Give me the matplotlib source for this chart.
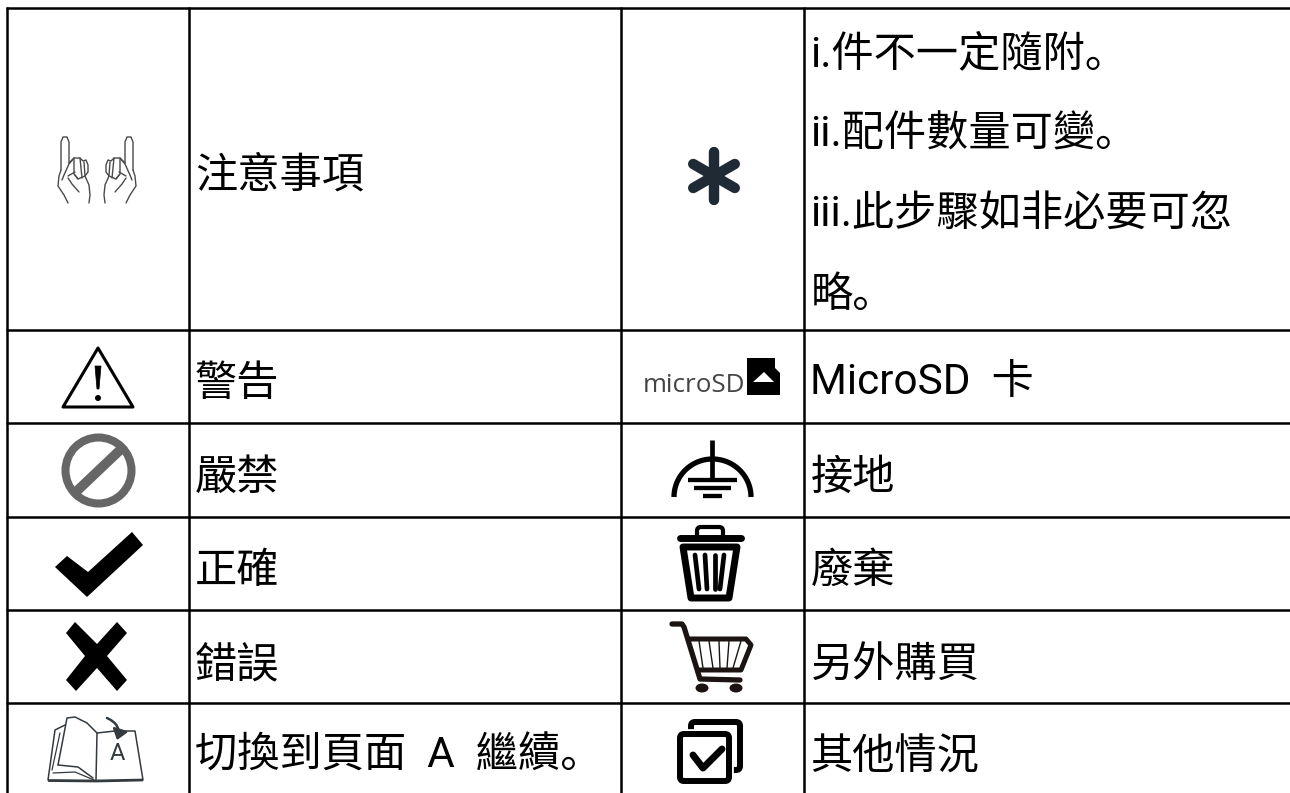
import matplotlib
matplotlib.use("Agg")
import matplotlib.pyplot as plt
import numpy as np
from matplotlib.patches import Circle, Polygon, FancyBboxPatch, Ellipse, FancyArrowPatch

plt.rcParams['font.family'] = ['Roboto', 'Noto Sans CJK SC', 'DejaVu Sans']

# table contents
left_labels = ["注意事項", "警告", "嚴禁", "正確", "錯誤", "切換到頁面  A  繼續。"]
right_labels = ["", "MicroSD  卡", "接地", "廢棄", "另外購買", "其他情況"]
note_lines = ["i.件不一定隨附。", "ii.配件數量可變。", "iii.此步驟如非必要可忽", "略。"]

col_edges = [7, 189, 621, 803.5]
row_edges = [8, 330, 423, 517, 610, 703, 793]
# text baselines
left_y = [188, 396, 490, 583, 677, 768]
right_y = [0, 394, 490, 583, 677, 770]
note_y = [66, 146, 226, 307]

fig = plt.figure(figsize=(12.9, 7.93), dpi=100)
ax = fig.add_axes([0, 0, 1, 1])
ax.set_xlim(0, 1290)
ax.set_ylim(793, 0)
ax.axis("off")


def line(xs, ys, lw=2, c="black", cap="butt", join="round"):
    ax.plot(xs, ys, color=c, lw=lw, solid_capstyle=cap, solid_joinstyle=join)


def curve(pts, lw=1.0, c="#4a4a4a"):
    ax.plot([p[0] for p in pts], [p[1] for p in pts], color=c, lw=lw,
            solid_capstyle="round", solid_joinstyle="round")


def hands():
    # left hand, right hand is its mirror around x=97
    strokes = [
        [(61, 170), (61, 142), (63, 137), (67, 137), (69, 142), (69, 163)],
        [(61, 170), (59, 176), (58, 186), (64, 195), (68, 203)],
        [(74, 158), (69, 164), (64, 175), (62, 180)],
        [(69, 163), (74, 158), (80, 158), (83, 161), (86, 160), (88, 165), (88, 172), (85, 176), (78, 179), (75, 175)],
        [(74, 159), (74, 174), (78, 179)],
        [(80, 158), (82, 178)],
        [(84, 162), (85, 176), (89, 185), (90, 195), (89, 203)],
        [(68, 178), (72, 184), (79, 192)],
        [(75, 172), (68, 176)],
    ]
    for s in strokes:
        curve(s)
        curve([(194 - x, y) for x, y in s])


def warning():
    ax.add_patch(Polygon([(98, 348), (63, 407), (133, 407)], closed=True, fc="white", ec="black", lw=2.2, joinstyle="round"))
    ax.add_patch(Polygon([(95, 366), (101, 366), (99, 389), (97, 389)], closed=True, fc="black", ec="black", lw=0.5))
    ax.add_patch(Circle((98, 398), 3, fc="black", ec="none"))


def prohibited():
    c = (98.5, 470.5)
    ax.add_patch(Circle(c, 33, fc="none", ec="#666666", lw=5.8))
    d = 33 * np.cos(np.pi / 4)
    line([c[0] - d, c[0] + d], [c[1] + d * 0.95, c[1] - d * 0.95], lw=7, c="#666666")


def check():
    ax.add_patch(Polygon([(55, 567), (67, 556), (88, 572), (132, 532), (143, 545), (87, 597)], closed=True, fc="black", ec="none"))


def cross():
    ax.add_patch(Polygon([(75, 622), (66, 633), (85, 656), (66, 680), (76, 691), (97, 668),
                          (117, 691), (127, 680), (107, 656), (127, 633), (117, 622), (97, 644)],
                         closed=True, fc="black", ec="none"))


def book():
    c = "#333a40"
    curve([(48, 780), (55, 730), (65, 725)], 1.1, c)
    curve([(58, 765), (67, 718), (75, 717), (87, 723), (97, 733), (96, 780)], 1.1, c)
    curve([(52, 770), (60, 733)], 0.9, c)
    curve([(58, 765), (78, 767), (93, 778)], 1.1, c)
    curve([(53, 773), (75, 772), (94, 780)], 0.9, c)
    curve([(97, 733), (115, 731), (135, 731), (143, 780)], 1.1, c)
    line([48, 96, 143], [780.5, 781, 780], lw=2, c=c)
    ax.add_patch(FancyArrowPatch((107, 718), (117, 740), connectionstyle="arc3,rad=-0.45",
                                 arrowstyle="-|>,head_width=3,head_length=4",
                                 lw=1.8, color=c, mutation_scale=1.5, shrinkA=0, shrinkB=0))
    ax.text(117, 753, "A", ha="center", va="center", fontsize=17, color=c)


def asterisk():
    x, y = 714, 176
    for ang in (90, 30, -30):
        dx = 24 * np.cos(np.radians(ang))
        dy = 24 * np.sin(np.radians(ang))
        line([x - dx, x + dx], [y - dy, y + dy], lw=7.5, c="#1f2a35", cap="round")


def microsd():
    ax.text(643, 392, "microSD", ha="left", va="baseline", fontsize=18.7, color="#444444", family="Open Sans")
    ax.add_patch(Polygon([(747, 358), (775, 358), (775, 368), (780, 373), (780, 395), (747, 395)], closed=True, fc="black", ec="none"))
    ax.add_patch(Polygon([(753, 382), (764, 372), (774, 382)], closed=True, fc="white", ec="none"))


def ground():
    line([712, 712], [440, 480], lw=3.4)
    t = np.linspace(np.pi, 2 * np.pi, 60)
    line(712.5 + 38.5 * np.cos(t), 497 + 38 * np.sin(t), lw=3.8)
    line([688, 737], [480, 480], lw=3.1)
    line([694, 731], [488, 488], lw=3.1)
    line([703, 722], [496, 496], lw=3.1)


def trash():
    line([680, 741], [538, 538], lw=5, cap="round")
    ax.add_patch(FancyBboxPatch((697, 527), 26, 11, boxstyle="round,pad=0,rounding_size=4", fc="none", ec="black", lw=3))
    ax.add_patch(Polygon([(683, 547), (737, 547), (729, 598), (691, 598)], closed=True, fc="white", ec="black", lw=5, joinstyle="round"))
    stripe_top = [695, 705, 715, 724]
    stripe_bottom = [699, 707, 715, 720]
    for x0, x1 in zip(stripe_top, stripe_bottom):
        line([x0, x1], [555, 589], lw=3.4, cap="round")


def cart():
    c = "#1c1412"
    line([672, 682, 684, 700, 740], [624, 624, 627, 679, 680], lw=3.8, c=c, cap="round")
    ax.plot([690, 746, 751, 741, 698], [639, 639, 645, 670, 670], color=c, lw=3.6, solid_joinstyle="round")
    stripe_top = [699, 709, 719, 729, 741]
    stripe_bottom = [703, 713, 720, 727, 733]
    for a, b in zip(stripe_top, stripe_bottom):
        line([a, b], [641, 668], lw=1, c=c)
    ax.add_patch(Ellipse((702, 688), 13, 9, fc=c, ec="none"))
    ax.add_patch(Ellipse((736, 688), 13, 9, fc=c, ec="none"))


def others():
    ax.add_patch(FancyBboxPatch((691, 722), 49, 48, boxstyle="round,pad=0,rounding_size=4", fc="none", ec="black", lw=4.3))
    ax.add_patch(FancyBboxPatch((680, 734), 49, 47, boxstyle="round,pad=0,rounding_size=4", fc="white", ec="white", lw=7))
    ax.add_patch(FancyBboxPatch((680, 734), 49, 47, boxstyle="round,pad=0,rounding_size=4", fc="white", ec="black", lw=4.3))
    line([693, 703, 722], [755, 768, 749], lw=5, cap="round")


# grid
for x in col_edges:
    line([x, x], [row_edges[0] - 1, 793], lw=1.8)
for y in row_edges[:-1]:
    line([col_edges[0] - 1, 1290], [y, y], lw=1.8)

# labels
for lab, y in zip(left_labels, left_y):
    ax.text(col_edges[1] + 6, y, lab, va="baseline", ha="left", fontsize=30.4)
for lab, y in zip(right_labels, right_y):
    if lab:
        ax.text(col_edges[3] + 7, y, lab, va="baseline", ha="left", fontsize=30.4)
for lab, y in zip(note_lines, note_y):
    ax.text(col_edges[3] + 7, y, lab, va="baseline", ha="left", fontsize=30.4)

hands()
warning()
prohibited()
check()
cross()
book()
asterisk()
microsd()
ground()
trash()
cart()
others()

fig.savefig("out.png", dpi=100)
